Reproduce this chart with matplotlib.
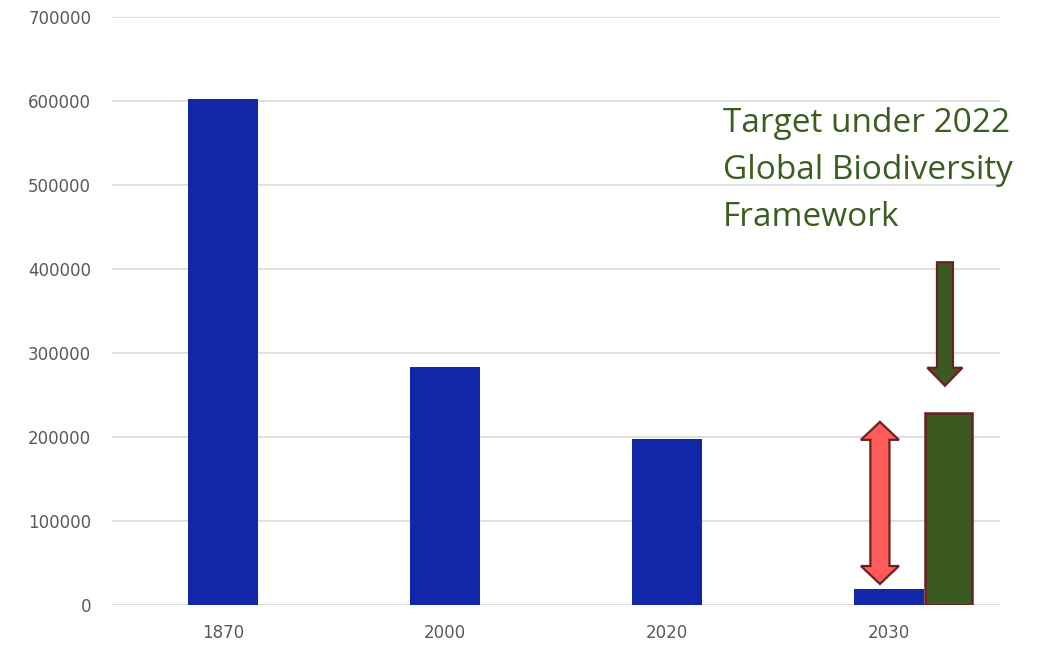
import matplotlib
matplotlib.use("Agg")
import matplotlib.pyplot as plt
from matplotlib.patches import FancyArrow, Polygon

years = ["1870", "2000", "2020", "2030"]
values = [602000, 283000, 198000, 19000]
target_value = 228000
target_arrow_start = 408000
target_arrow_end = 261000
gap_arrow_top = 218000
gap_arrow_bottom = 25000
yticks = [0, 100000, 200000, 300000, 400000, 500000, 600000, 700000]
annotation = "Target under 2022\nGlobal Biodiversity\nFramework"

fig = plt.figure(figsize=(10.49, 6.46), dpi=100)
ax = fig.add_axes([0.1068, 0.0635, 0.8465, 0.9102])

x = list(range(len(years)))
ax.bar(x, values, width=0.315, color="#1226A8", zorder=2)
ax.bar([3.268], [target_value], width=0.212, color="#3A5A22",
       edgecolor="#6B2121", linewidth=1.8, zorder=3)

ax.set_xlim(-0.5, 3.5)
ax.set_ylim(0, 700000)
ax.set_yticks(yticks)
ax.set_yticklabels([str(v) for v in yticks])
ax.set_xticks(x)
ax.set_xticklabels(years)
ax.tick_params(axis="both", length=0, colors="#595959", labelsize=12)
ax.tick_params(axis="y", pad=15)
ax.tick_params(axis="x", pad=14)
for s in ax.spines.values():
    s.set_visible(False)
ax.grid(axis="y", color="#D9D9D9", linewidth=1.2, zorder=0)
ax.set_axisbelow(True)

# green down arrow
ax.add_patch(FancyArrow(3.252, target_arrow_start, 0, target_arrow_end - target_arrow_start,
                        width=0.072, head_width=0.158, head_length=21400,
                        length_includes_head=True, facecolor="#3A5A22",
                        edgecolor="#6B2121", linewidth=1.6, zorder=4))
# red double arrow
cx, sw, hw, hl = 2.959, 0.086 / 2, 0.171 / 2, 21400
t, b = gap_arrow_top, gap_arrow_bottom
verts = [
    (cx, t), (cx + hw, t - hl), (cx + sw, t - hl), (cx + sw, b + hl),
    (cx + hw, b + hl), (cx, b), (cx - hw, b + hl), (cx - sw, b + hl),
    (cx - sw, t - hl), (cx - hw, t - hl),
]
ax.add_patch(Polygon(verts, closed=True, facecolor="#FF5B5B",
                     edgecolor="#6B2121", linewidth=1.6, zorder=4))

ax.text(2.252, 593000, annotation, color="#3B5E1F", fontsize=24,
        family="Open Sans", va="top", ha="left", linespacing=1.56, zorder=6)

fig.savefig("out.png", dpi=100)
